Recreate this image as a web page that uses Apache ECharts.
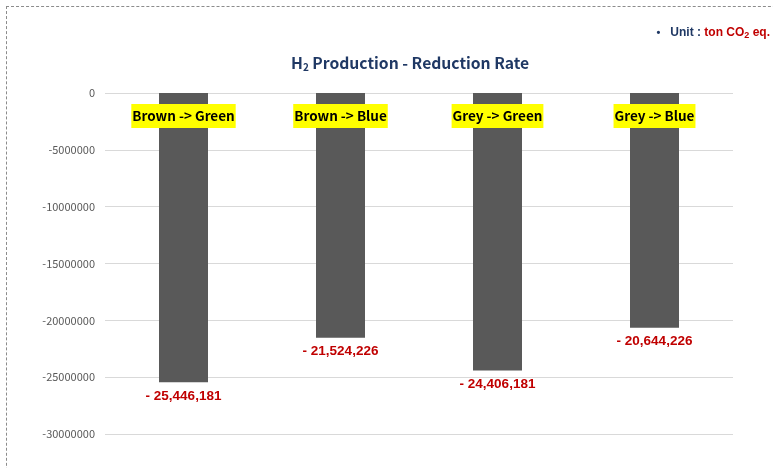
<!DOCTYPE html>
<html>
<head>
<meta charset="utf-8">
<script src="https://cdn.jsdelivr.net/npm/echarts@6/dist/echarts.min.js"></script>
<style>
  html, body { margin: 0; padding: 0; background: #fff; }
  #frame {
    position: absolute; left: 6px; top: 6px; width: 800px; height: 500px;
    border: 1px dashed #8c8c8c; box-sizing: border-box;
  }
  #chart { position: absolute; left: 0; top: 0; width: 773px; height: 468px; }
</style>
</head>
<body>
<div id="frame"></div>
<div id="chart"></div>
<script>
// chart data
var categories = ["Brown -> Green", "Brown -> Blue", "Grey -> Green", "Grey -> Blue"];
var reduction = [-25446181, -21524226, -24406181, -20644226];
var yTicks = { min: -30000000, max: 0, step: 5000000 };

function fmtValue(v) {
  // red labels show "- 25,446,181"
  var s = Math.abs(v).toString().replace(/\B(?=(\d{3})+(?!\d))/g, ",");
  return (v < 0 ? "- " : "") + s;
}

var chart = echarts.init(document.getElementById("chart"), null, { renderer: "canvas" });
chart.setOption({
  animation: false,
  title: [
    {
      text: "{m|H}{s|2}{m| Production - Reduction Rate}",
      left: 286,
      top: 46,
      textStyle: {
        rich: {
          m: { fontSize: 15.7, fontWeight: "bold", color: "#1f3864", fontFamily: "Noto Sans CJK KR", lineHeight: 24 },
          s: { fontSize: 10, fontWeight: "bold", color: "#1f3864", fontFamily: "Noto Sans CJK KR", lineHeight: 24, padding: [9, 0, 0, 0] }
        }
      }
    },
    {
      text: "{b|•}{u|   Unit : }{r|ton CO}{rs|2}{r| eq.}",
      right: -2,
      top: 18,
      textStyle: {
        rich: {
          b: { fontSize: 11, color: "#1f3864", fontFamily: "Liberation Sans", lineHeight: 20 },
          u: { fontSize: 12, fontWeight: "bold", color: "#1f3864", fontFamily: "Liberation Sans", lineHeight: 20 },
          r: { fontSize: 12, fontWeight: "bold", color: "#c00000", fontFamily: "Liberation Sans", lineHeight: 20 },
          rs: { fontSize: 9, fontWeight: "bold", color: "#c00000", fontFamily: "Liberation Sans", lineHeight: 20, padding: [6, 0, 0, 0] }
        }
      }
    }
  ],
  grid: { left: 105, right: 40, top: 93, bottom: 34 },
  xAxis: {
    type: "category",
    data: categories,
    position: "top",
    z: 10,
    axisLine: { show: false },
    axisTick: { show: false },
    axisLabel: {
      inside: true,
      margin: 11,
      color: "#000",
      fontSize: 13.5,
      fontWeight: "bold",
      fontFamily: "Noto Sans CJK KR",
      backgroundColor: "#ffff00",
      padding: [2, 1, 2, 1],
      lineHeight: 20
    }
  },
  yAxis: {
    type: "value",
    min: yTicks.min,
    max: yTicks.max,
    interval: yTicks.step,
    axisLine: { show: false },
    axisTick: { show: false },
    axisLabel: {
      color: "#595959", fontSize: 11, fontFamily: "Noto Sans CJK KR", margin: 10,
      formatter: function (v) { return String(v); }
    },
    splitLine: { lineStyle: { color: "#d9d9d9", width: 1 } }
  },
  series: [
    {
      type: "bar",
      data: reduction,
      barWidth: 49,
      itemStyle: { color: "#595959" },
      z: 1,
      label: {
        show: true,
        position: "bottom",
        distance: 7,
        color: "#c00000",
        fontSize: 13.5,
        fontWeight: "bold",
        fontFamily: "Liberation Sans",
        formatter: function (p) { return fmtValue(p.value); }
      }
    }
  ]
});
</script>
</body>
</html>
